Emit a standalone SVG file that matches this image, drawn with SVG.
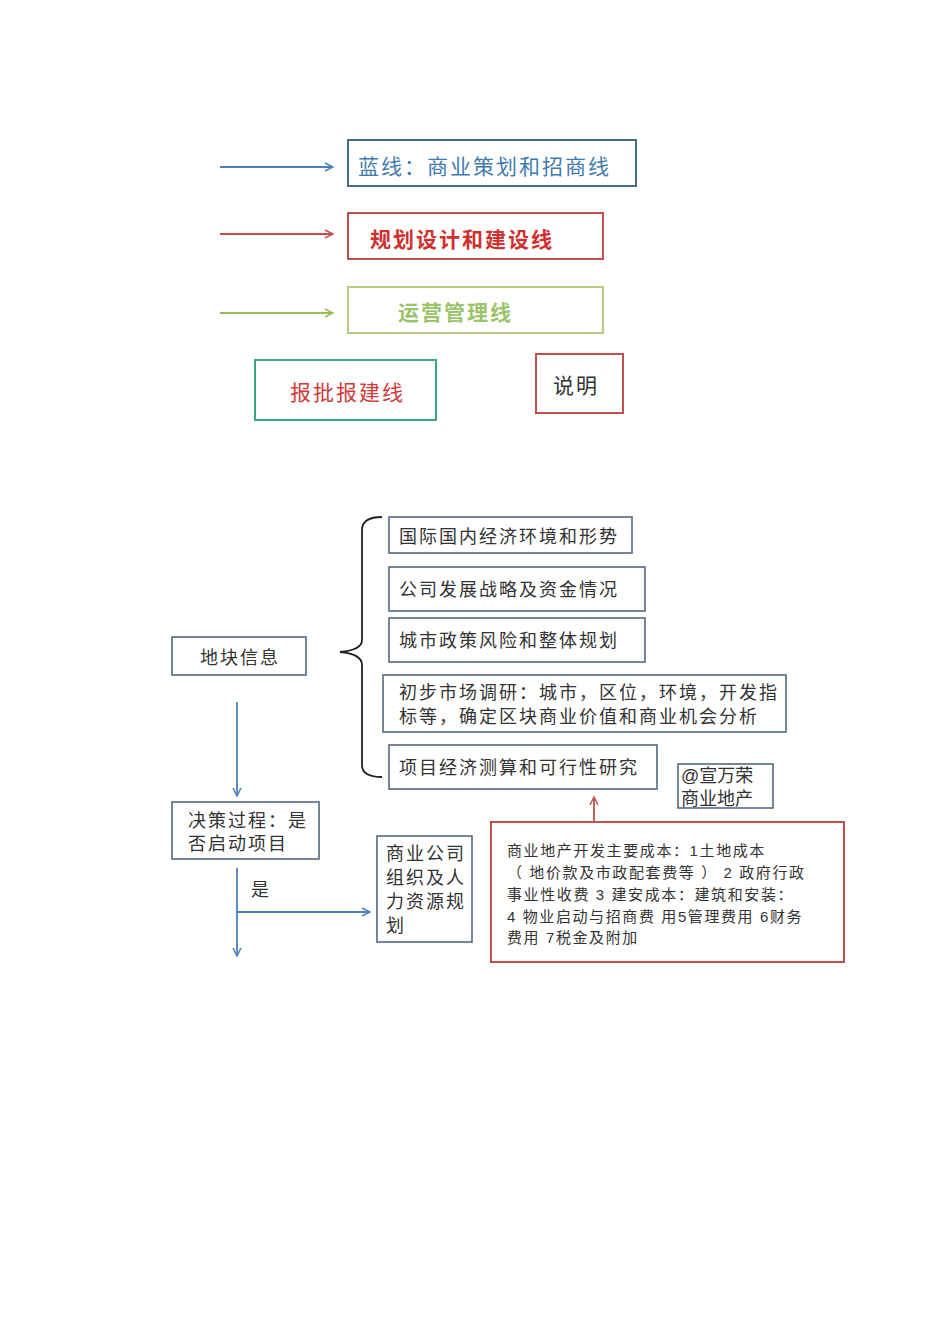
<svg xmlns="http://www.w3.org/2000/svg" width="950" height="1344" viewBox="0 0 950 1344">
<style>
text{font-family:"Liberation Sans","Noto Sans CJK SC",sans-serif;letter-spacing:2px}
.n{fill:#fff;stroke:#4a5f78;stroke-width:1.5}
.t{font-size:18px;fill:#333}
.s{font-size:15px;fill:#333;letter-spacing:1.6px}
</style>
<defs>
<marker id="ab" markerWidth="10" markerHeight="10" refX="9" refY="5" orient="auto" markerUnits="userSpaceOnUse"><path d="M1,1 L9,5 L1,9" fill="none" stroke="#4f7fb8" stroke-width="1.5"/></marker>
<marker id="ar" markerWidth="10" markerHeight="10" refX="9" refY="5" orient="auto" markerUnits="userSpaceOnUse"><path d="M1,1 L9,5 L1,9" fill="none" stroke="#c0504d" stroke-width="1.5"/></marker>
<marker id="ag" markerWidth="10" markerHeight="10" refX="9" refY="5" orient="auto" markerUnits="userSpaceOnUse"><path d="M1,1 L9,5 L1,9" fill="none" stroke="#9bbb59" stroke-width="1.5"/></marker>
</defs>
<rect width="950" height="1344" fill="#fff"/>
<g id="connectors" fill="none" stroke-width="1.8">
<line x1="220" y1="167" x2="333" y2="167" stroke="#4f7fb8" marker-end="url(#ab)"/>
<line x1="220" y1="234" x2="333" y2="234" stroke="#c0504d" marker-end="url(#ar)"/>
<line x1="220" y1="313" x2="333" y2="313" stroke="#9bbb59" marker-end="url(#ag)"/>
<path d="M382,517 Q362,517 362,530 L362,640 Q362,650 340,652 Q362,654 362,665 L362,765 Q362,777 382,777" stroke="#222"/>
<line x1="237" y1="702" x2="237" y2="796" stroke="#4f7fb8" marker-end="url(#ab)"/>
<line x1="237" y1="868" x2="237" y2="956" stroke="#4f7fb8" marker-end="url(#ab)"/>
<line x1="237" y1="912" x2="370" y2="912" stroke="#4f7fb8" marker-end="url(#ab)"/>
<line x1="594" y1="822" x2="594" y2="797" stroke="#c0504d" marker-end="url(#ar)"/>
</g>
<g id="legend-blue"><rect x="348" y="140" width="288" height="46" fill="#fff" stroke="#4a6a8a" stroke-width="2"/><text x="358" y="174" font-size="21" fill="#3f7bb0">蓝线：商业策划和招商线</text></g>
<g id="legend-red"><rect x="348" y="213" width="255" height="46" fill="#fff" stroke="#c0504d" stroke-width="2"/><text x="370" y="247" font-size="21" font-weight="bold" fill="#d03030">规划设计和建设线</text></g>
<g id="legend-green"><rect x="348" y="287" width="255" height="46" fill="#fff" stroke="#b6cc7e" stroke-width="2"/><text x="398" y="320" font-size="21" font-weight="bold" fill="#9bc46a">运营管理线</text></g>
<g id="legend-approve"><rect x="255" y="360" width="181" height="60" fill="#fff" stroke="#3aa882" stroke-width="2"/><text x="290" y="400" font-size="21" fill="#d03a3a">报批报建线</text></g>
<g id="legend-note"><rect x="536" y="354" width="87" height="59" fill="#fff" stroke="#c0504d" stroke-width="2"/><text x="553" y="393" font-size="21" fill="#333">说明</text></g>
<g id="n1"><rect class="n" x="172" y="637" width="134" height="38"/><text class="t" x="200" y="664">地块信息</text></g>
<g id="n2"><rect class="n" x="389" y="517" width="243" height="36"/><text class="t" x="399" y="543">国际国内经济环境和形势</text></g>
<g id="n3"><rect class="n" x="389" y="567" width="256" height="44"/><text class="t" x="399" y="596">公司发展战略及资金情况</text></g>
<g id="n4"><rect class="n" x="389" y="618" width="256" height="44"/><text class="t" x="399" y="647">城市政策风险和整体规划</text></g>
<g id="n5"><rect class="n" x="383" y="675" width="403" height="57"/><text class="t" x="399" y="699">初步市场调研：城市，区位，环境，开发指</text><text class="t" x="399" y="723">标等，确定区块商业价值和商业机会分析</text></g>
<g id="n6"><rect class="n" x="389" y="745" width="268" height="44"/><text class="t" x="399" y="774">项目经济测算和可行性研究</text></g>
<g id="n7"><rect class="n" x="678" y="764" width="95" height="44"/><text class="t" x="681" y="782" style="letter-spacing:0">@宣万荣</text><text class="t" x="681" y="805" style="letter-spacing:0">商业地产</text></g>
<g id="n8"><rect class="n" x="172" y="802" width="147" height="57"/><text class="t" x="188" y="827">决策过程：是</text><text class="t" x="188" y="850">否启动项目</text></g>
<text class="t" x="251" y="896">是</text>
<g id="n9"><rect class="n" x="377" y="836" width="95" height="106"/><text class="t" x="386" y="860">商业公司</text><text class="t" x="386" y="884">组织及人</text><text class="t" x="386" y="908">力资源规</text><text class="t" x="386" y="932">划</text></g>
<g id="n10"><rect x="491" y="822" width="353" height="140" fill="#fff" stroke="#c0504d" stroke-width="2"/>
<text class="s" x="507" y="856">商业地产开发主要成本：1土地成本</text>
<text class="s" x="507" y="878">（ 地价款及市政配套费等 ） 2 政府行政</text>
<text class="s" x="507" y="900">事业性收费 3 建安成本：建筑和安装：</text>
<text class="s" x="507" y="922"> 4 物业启动与招商费 用5管理费用 6财务</text>
<text class="s" x="507" y="943">费用 7税金及附加</text></g>
</svg>
